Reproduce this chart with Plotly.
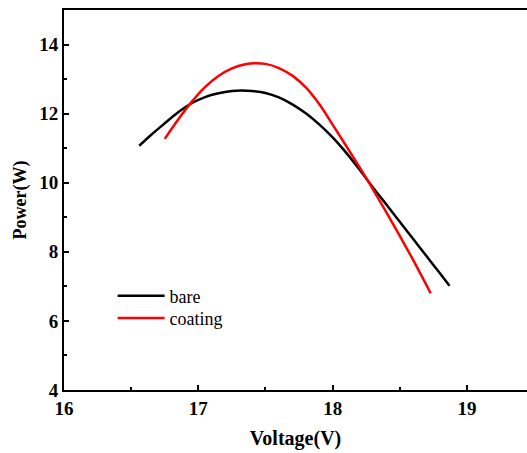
import plotly.graph_objects as go

bare_v = [16.56, 16.65, 16.75, 16.85, 16.95, 17.05, 17.15, 17.25, 17.32, 17.40, 17.50, 17.60,
          17.70, 17.80, 17.90, 18.00, 18.10, 18.20, 18.30, 18.40, 18.50, 18.60, 18.70, 18.80, 18.87]
bare_p = [11.07, 11.39, 11.72, 12.04, 12.30, 12.48, 12.59, 12.655, 12.67, 12.655, 12.60, 12.47,
          12.27, 12.01, 11.69, 11.31, 10.87, 10.38, 9.86, 9.37, 8.87, 8.37, 7.87, 7.37, 7.02]

coat_v = [16.75, 16.85, 16.95, 17.05, 17.15, 17.25, 17.35, 17.42, 17.50, 17.60, 17.70,
          17.80, 17.90, 18.00, 18.10, 18.20, 18.30, 18.40, 18.50, 18.60, 18.73]
coat_p = [11.27, 11.83, 12.34, 12.77, 13.09, 13.31, 13.43, 13.46, 13.44, 13.32, 13.10,
          12.76, 12.28, 11.68, 11.07, 10.45, 9.81, 9.14, 8.46, 7.76, 6.80]

font_family = "Liberation Serif"

fig = go.Figure()
fig.add_trace(go.Scatter(x=bare_v, y=bare_p, mode="lines", name="bare", legend="legend",
                         line=dict(color="black", width=2.5, shape="spline", smoothing=1)))
fig.add_trace(go.Scatter(x=coat_v, y=coat_p, mode="lines", name="coating", legend="legend2",
                         line=dict(color="#ff0000", width=2.5, shape="spline", smoothing=1)))

leg_common = dict(xanchor="left", yanchor="middle", bgcolor="rgba(0,0,0,0)",
                  font=dict(size=18, family=font_family), itemwidth=47)

fig.update_layout(
    width=527, height=453,
    margin=dict(l=64, r=0, t=10, b=63),
    plot_bgcolor="white", paper_bgcolor="white",
    font=dict(family=font_family, color="black"),
    showlegend=True,
    legend=dict(x=0.105, y=0.247, **leg_common),
    legend2=dict(x=0.105, y=0.189, **leg_common),
    xaxis=dict(range=[16, 19.447], tickvals=[16, 17, 18, 19], ticktext=["16", "17", "18", "19"],
               showline=True, linecolor="black", linewidth=2, mirror=True,
               ticks="inside", ticklen=5, tickwidth=2, tickcolor="black",
               minor=dict(dtick=0.5, tick0=16, ticks="inside", ticklen=3, tickwidth=2, tickcolor="black"),
               showgrid=False, zeroline=False,
               tickfont=dict(size=19, family=font_family, weight="bold"),
               title=dict(text="<b>Voltage(V)</b>", font=dict(size=20, family=font_family), standoff=13)),
    yaxis=dict(range=[4, 15], tickvals=[4, 6, 8, 10, 12, 14], ticktext=["4", "6", "8", "10", "12", "14"],
               showline=True, linecolor="black", linewidth=2, mirror=False,
               ticks="inside", ticklen=5, tickwidth=2, tickcolor="black",
               minor=dict(dtick=1, tick0=4, ticks="inside", ticklen=3, tickwidth=2, tickcolor="black"),
               showgrid=False, zeroline=False,
               tickfont=dict(size=19, family=font_family, weight="bold"),
               title=dict(text="<b>Power(W)</b>", font=dict(size=18, family=font_family), standoff=8)),
)

fig.write_html("out.html")
